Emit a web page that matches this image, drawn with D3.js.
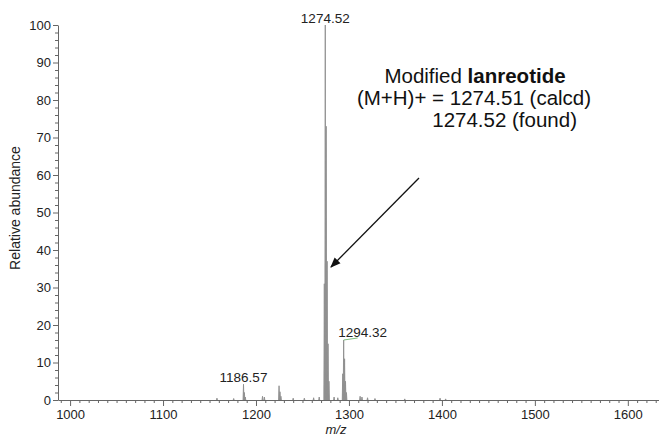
<!DOCTYPE html>
<html>
<head>
<meta charset="utf-8">
<script src="https://cdn.jsdelivr.net/npm/d3@7"></script>
<style>
  body { margin: 0; background: #fff; }
  svg { font-family: "Liberation Sans", Arial, sans-serif; }
  .axis path, .axis line { stroke: #666; }
  .axis text { fill: #222; font-size: 13px; }
</style>
</head>
<body>
<div id="chart"></div>
<script>
// peak list: m/z and relative abundance
var peakMz = [1158, 1176, 1186.57, 1187.5, 1188.5, 1207, 1209, 1224.8, 1225.8, 1226.8,
  1240, 1252, 1262, 1268, 1273.5, 1274.52, 1275.52, 1276.52, 1277.52, 1278.5,
  1284, 1288, 1293.3, 1294.32, 1295.3, 1296.3, 1297.3, 1312, 1314, 1320, 1328, 1360, 1398, 1404];
var peakAbund = [0.5, 0.4, 4.2, 2, 0.8, 1.0, 0.8, 3.8, 2.2, 1,
  0.5, 0.5, 0.6, 0.8, 31, 100, 73, 37, 15, 5,
  0.8, 0.6, 7, 16, 11, 5, 2, 1.0, 0.8, 0.6, 0.4, 0.3, 0.5, 0.3];

var labelText = ["1186.57", "1274.52", "1294.32"];

var xMajor = [1000, 1100, 1200, 1300, 1400, 1500, 1600];
var yMajor = [0, 10, 20, 30, 40, 50, 60, 70, 80, 90, 100];

var config = {
    width: 659,
    height: 439
};

var svg = d3.select("#chart").append("svg")
    .attr("width", config.width)
    .attr("height", config.height);

var x = d3.scaleLinear().domain([987, 1640]).range([58, 665]);
var y = d3.scaleLinear().domain([0, 100]).range([400, 25]);

// minor ticks first
var xMinor = d3.range(990, 1640, 10).filter(function (d) { return d % 100 !== 0; });
var yMinor = d3.range(0, 101, 2).filter(function (d) { return d % 10 !== 0; });

svg.append("g")
    .attr("class", "axis")
    .attr("transform", "translate(0,400)")
    .call(d3.axisBottom(x).tickValues(xMinor).tickSize(3).tickFormat(""))
    .select(".domain").remove();

svg.append("g")
    .attr("class", "axis")
    .attr("transform", "translate(58,0)")
    .call(d3.axisLeft(y).tickValues(yMinor).tickSize(3).tickFormat(""))
    .select(".domain").remove();

svg.append("g")
    .attr("class", "axis")
    .attr("transform", "translate(0,400)")
    .call(d3.axisBottom(x).tickValues(xMajor).tickFormat(d3.format("d"))
        .tickSizeInner(6).tickSizeOuter(0).tickPadding(4));

svg.append("g")
    .attr("class", "axis")
    .attr("transform", "translate(58,0)")
    .call(d3.axisLeft(y).tickValues(yMajor).tickSizeInner(5).tickSizeOuter(0).tickPadding(2));

// spectrum peaks
var peaks = peakMz.map(function (d, i) { return { mz: d, v: peakAbund[i] }; });
var peakShape = d3.line()
    .x(function (p) { return x(p[0]); })
    .y(function (p) { return y(p[1]); });

svg.append("g").selectAll("path")
    .data(peaks)
    .enter().append("path")
    .attr("d", function (d) {
        return peakShape([[d.mz - 0.5, 0], [d.mz, d.v], [d.mz + 0.5, 0]]);
    })
    .attr("fill", "#8f8f8f")
    .attr("stroke", "#8f8f8f")
    .attr("stroke-width", 0.9);

// peak labels
var labelY = { "1186.57": 382, "1274.52": 23, "1294.32": 337 };
var labelX = { "1186.57": x(1186.57), "1274.52": x(1274.52), "1294.32": x(1294.32) + 19 };
svg.append("g").selectAll("text")
    .data(labelText)
    .enter().append("text")
    .attr("x", function (d) { return labelX[d]; })
    .attr("y", function (d) { return labelY[d]; })
    .attr("text-anchor", "middle")
    .attr("font-size", "13.5px")
    .attr("fill", "#222")
    .text(function (d) { return d; });

// small green leader for the offset 1294.32 label
svg.append("line")
    .attr("x1", x(1294.32)).attr("y1", y(16))
    .attr("x2", x(1294.32) + 14).attr("y2", y(16) - 2)
    .attr("stroke", "#7fbf7f")
    .attr("stroke-width", 1);

// annotation
var note = svg.append("g").attr("fill", "#111").attr("font-size", "20.5px");
var line1 = note.append("text").attr("x", 475).attr("y", 83).attr("text-anchor", "middle");
line1.append("tspan").text("Modified ");
line1.append("tspan").attr("font-weight", "bold").text("lanreotide");
note.append("text").attr("x", 474).attr("y", 105).attr("text-anchor", "middle")
    .text("(M+H)+ = 1274.51 (calcd)");
note.append("text").attr("x", 577).attr("y", 127).attr("text-anchor", "end")
    .text("1274.52 (found)");

// arrow
svg.append("defs").append("marker")
    .attr("id", "arrow")
    .attr("viewBox", "0 0 10 10")
    .attr("refX", 9).attr("refY", 5)
    .attr("markerWidth", 8).attr("markerHeight", 8)
    .attr("orient", "auto")
    .append("path")
    .attr("d", "M0,1 L10,5 L0,9 Z")
    .attr("fill", "#111");

svg.append("line")
    .attr("x1", 419).attr("y1", 178)
    .attr("x2", 331).attr("y2", 267)
    .attr("stroke", "#111")
    .attr("stroke-width", 1.3)
    .attr("marker-end", "url(#arrow)");

// axis titles
svg.append("text")
    .attr("transform", "translate(20,208) rotate(-90)")
    .attr("text-anchor", "middle")
    .attr("font-size", "14px")
    .attr("fill", "#222")
    .text("Relative abundance");

svg.append("text")
    .attr("x", 336).attr("y", 434)
    .attr("text-anchor", "middle")
    .attr("font-size", "13px")
    .attr("font-style", "italic")
    .attr("fill", "#222")
    .text("m/z");
</script>
</body>
</html>
